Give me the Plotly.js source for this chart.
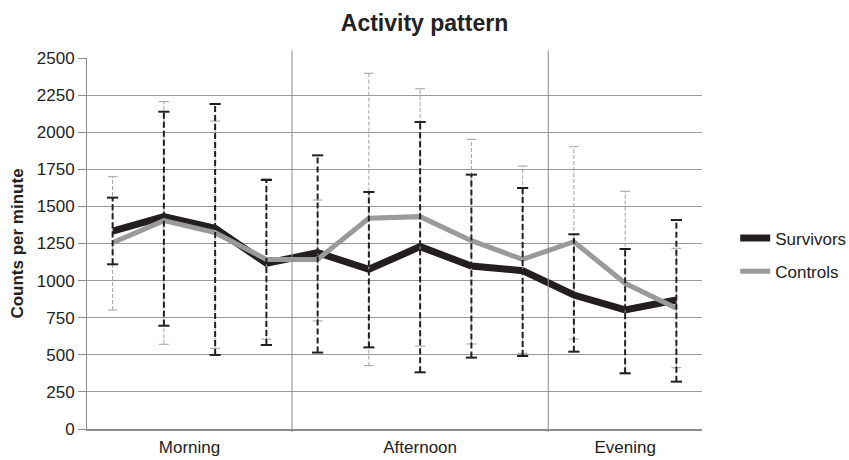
<!DOCTYPE html>
<html>
<head>
<meta charset="utf-8">
<script src="https://cdn.plot.ly/plotly-3.0.1.min.js"></script>
<style>html,body{margin:0;padding:0;background:#fff;}#chart{width:849px;height:460px;}</style>
</head>
<body>
<div id="chart"></div>
<script>
// Periods and number of time points per period
const periods = ['Morning', 'Afternoon', 'Evening'];
const pointsPerPeriod = [4, 5, 3];

// Mean counts per minute
const survivors = [1334, 1431, 1352, 1117, 1188, 1076, 1229, 1098, 1067, 903, 802, 869];
const controls  = [1255, 1404, 1323, 1143, 1143, 1420, 1431, 1269, 1143, 1262, 982, 813];

// Error bar limits (upper / lower)
const survivorsHigh = [1559, 2138, 2190, 1678, 1844, 1597, 2069, 1714, 1624, 1312, 1213, 1408];
const survivorsLow  = [1110, 696, 499, 566, 515, 550, 382, 481, 492, 521, 375, 319];
const controlsHigh  = [1700, 2206, 2075, 1687, 1543, 2397, 2293, 1952, 1772, 1902, 1602, 1218];
const controlsLow   = [802, 571, 544, 606, 728, 427, 559, 573, 510, 606, 380, 413];

const yTicks = [0, 250, 500, 750, 1000, 1250, 1500, 1750, 2000, 2250, 2500];

const xIdx = survivors.map((_, i) => i);

// period label positions and separators
const tickvals = [];
const separators = [];
let start = 0;
pointsPerPeriod.forEach((n, k) => {
  tickvals.push(start + (n - 1) / 2);
  if (k < pointsPerPeriod.length - 1) separators.push(start + n - 0.5);
  start += n;
});

function errSegments(lo, hi) {
  const x = [], y = [];
  lo.forEach((v, i) => { x.push(i, i, null); y.push(v, hi[i], null); });
  return {x, y};
}
function caps(lo, hi) {
  const x = [], y = [];
  lo.forEach((v, i) => { x.push(i, i); y.push(v, hi[i]); });
  return {x, y};
}

const black = '#231f20';
const gray = '#9a9a9a';
const errGray = '#a0a0a0';

const sSeg = errSegments(survivorsLow, survivorsHigh);
const cSeg = errSegments(controlsLow, controlsHigh);
const sCap = caps(survivorsLow, survivorsHigh);
const cCap = caps(controlsLow, controlsHigh);

const traces = [
  {x: xIdx, y: survivors, type: 'scatter', mode: 'lines', name: 'Survivors',
   line: {color: black, width: 7}, legendgroup: 'a'},
  {x: xIdx, y: controls, type: 'scatter', mode: 'lines', name: 'Controls',
   line: {color: gray, width: 5}, legendgroup: 'b'},
  {x: cSeg.x, y: cSeg.y, type: 'scatter', mode: 'lines', showlegend: false, hoverinfo: 'skip',
   line: {color: errGray, width: 1, dash: '4px,2px'}},
  {x: cCap.x, y: cCap.y, type: 'scatter', mode: 'markers', showlegend: false, hoverinfo: 'skip',
   marker: {symbol: 'line-ew-open', size: 7, color: errGray, line: {color: errGray, width: 1}}},
  {x: sSeg.x, y: sSeg.y, type: 'scatter', mode: 'lines', showlegend: false, hoverinfo: 'skip',
   line: {color: black, width: 2, dash: '6px,3px'}},
  {x: sCap.x, y: sCap.y, type: 'scatter', mode: 'markers', showlegend: false, hoverinfo: 'skip',
   marker: {symbol: 'line-ew-open', size: 8, color: black, line: {color: black, width: 2}}}
];

const shapes = separators.map(s => ({
  type: 'line', xref: 'x', yref: 'paper', x0: s, x1: s, y0: -0.008, y1: 1.02,
  line: {color: '#8a8a8a', width: 1}
}));

const layout = {
  width: 849, height: 460,
  margin: {l: 87, r: 147, t: 58, b: 31, autoexpand: false},
  paper_bgcolor: '#fff', plot_bgcolor: '#fff',
  font: {family: '"Liberation Sans", Arial, sans-serif', size: 17, color: '#222'},
  title: {text: '<b>Activity pattern</b>', x: 0.5, xanchor: 'center', y: 0.95, yanchor: 'middle',
          font: {size: 23, color: '#222'}},
  xaxis: {
    range: [-0.5, xIdx.length - 0.5], tickmode: 'array', tickvals: tickvals, ticktext: periods,
    showgrid: false, zeroline: false, showline: true, linecolor: '#8c8c8c', linewidth: 2,
    ticks: 'outside', ticklen: 2, tickcolor: 'rgba(0,0,0,0)', fixedrange: true,
    tickfont: {size: 17}
  },
  yaxis: {
    range: [0, 2500], tickmode: 'array', tickvals: yTicks,
    showgrid: true, gridcolor: '#9a9a9a', gridwidth: 1, zeroline: false,
    showline: true, linecolor: '#8c8c8c', linewidth: 1,
    ticks: 'outside', ticklen: 8, tickcolor: '#8c8c8c', tickfont: {size: 17},
    title: {text: '<b>Counts per minute</b>', font: {size: 17}, standoff: 8}
  },
  legend: {x: 1.054, xanchor: 'left', y: 0.469, yanchor: 'middle', font: {size: 17},
           traceorder: 'grouped', tracegroupgap: 8, itemwidth: 30, bgcolor: 'rgba(0,0,0,0)'},
  shapes: shapes,
  showlegend: true
};

Plotly.newPlot('chart', traces, layout, {staticPlot: true});
</script>
</body>
</html>
